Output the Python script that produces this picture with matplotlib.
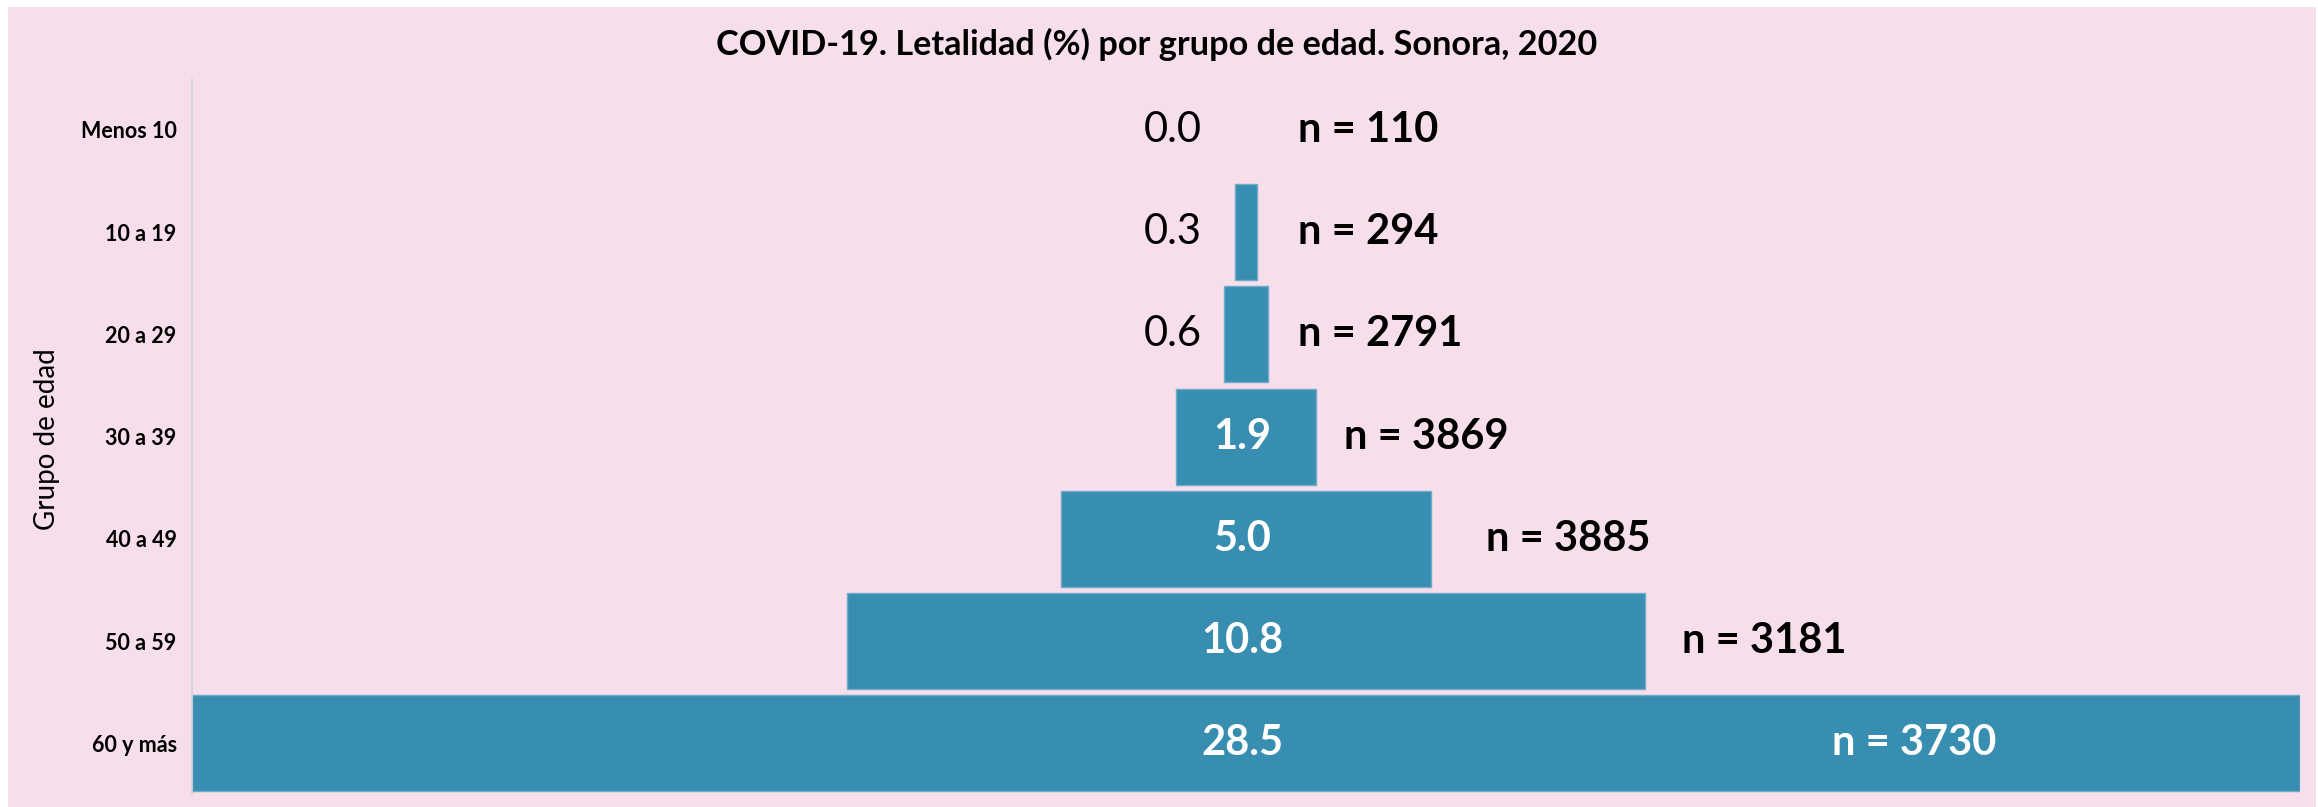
import numpy as np
import matplotlib.pyplot as plt
from matplotlib.patches import Rectangle

plt.rcParams['font.family'] = ['Lato', 'DejaVu Sans']

# datos
grupos = ['Menos 10', '10 a 19', '20 a 29', '30 a 39', '40 a 49', '50 a 59', '60 y más']
letalidad = [0.0, 0.3, 0.6, 1.9, 5.0, 10.8, 28.5]
casos = [110, 294, 2791, 3869, 3885, 3181, 3730]

# desplazamiento de la etiqueta "n = ..." desde el centro (unidades de datos)
n_offset = [0.75, 0.75, 0.75, 1.37, 3.29, 5.94, 9.04]

fondo = '#F6DEEB'
azul = '#388EB0'

fig = plt.figure(figsize=(23.18, 8.07), dpi=100, facecolor='white')
fig.patches.append(Rectangle((8 / 2318, 0), 1 - 10 / 2318, 1 - 7 / 807,
                             transform=fig.transFigure, facecolor=fondo,
                             edgecolor='none', zorder=-10))

ax = fig.add_axes([0.0828, 0.0155, 0.9094, 0.8870])
ax.set_facecolor(fondo)

vmax = max(letalidad)
centro = vmax / 2
y = np.arange(len(grupos))
vals = np.array(letalidad)
ax.barh(y, vals, left=centro - vals / 2, height=0.94, color=azul,
        edgecolor='#6FAACB', linewidth=[0 if v == 0 else 1 for v in vals])

for i, (v, n) in enumerate(zip(letalidad, casos)):
    if v < 1:
        ax.text(centro - 0.6, i, f'{v:.1f}', ha='right', va='center',
                fontsize=30, color='black')
    else:
        ax.text(centro - 0.05, i, f'{v:.1f}', ha='center', va='center',
                fontsize=30, color='white', fontweight='bold')
    if i == len(grupos) - 1:
        ax.text(centro + n_offset[i], i, f'n = {n}', ha='center', va='center',
                fontsize=30, color='white', fontweight='bold')
    else:
        ax.text(centro + n_offset[i] - 0.05, i, f'n = {n}', ha='left', va='center',
                fontsize=30, color='black', fontweight='bold')

ax.set_xlim(0, vmax)
ax.set_ylim(len(grupos) - 0.5, -0.5)
ax.set_yticks(y)
ax.set_yticklabels(grupos, fontsize=15.5, fontweight='bold')
ax.tick_params(axis='y', length=0, pad=11)
ax.set_xticks([])
for s in ['top', 'right', 'bottom']:
    ax.spines[s].set_visible(False)
ax.spines['left'].set_color('#D0D4D8')
ax.spines['left'].set_linewidth(1.2)

fig.text(0.499, 0.945, 'COVID-19. Letalidad (%) por grupo de edad. Sonora, 2020',
         ha='center', va='center', fontsize=24.7, fontweight='bold')
fig.text(0.0203, 0.456, 'Grupo de edad', rotation=90, ha='center', va='center',
         fontsize=20)

fig.savefig('out.png', dpi=100, facecolor=fig.get_facecolor())
